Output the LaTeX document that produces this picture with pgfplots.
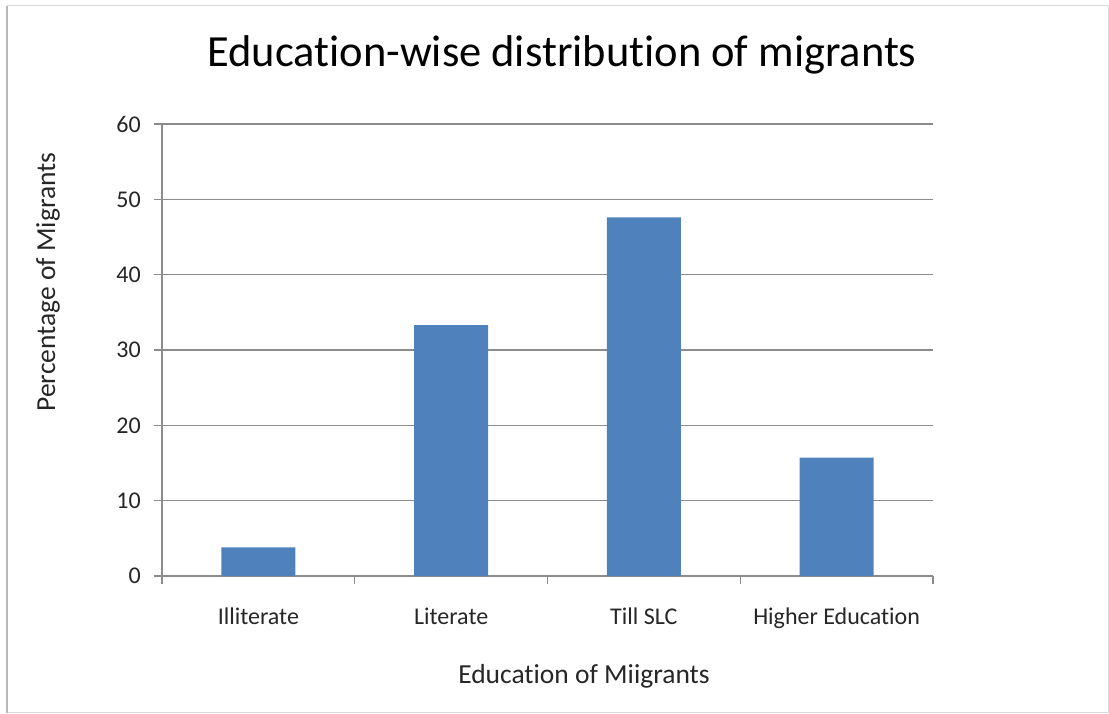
\documentclass[border=0pt]{standalone}
\usepackage{fontspec}
\setmainfont{Carlito}[Ligatures={NoCommon}]
\usepackage{pgfplots}
\pgfplotsset{compat=1.18}
\definecolor{barblue}{HTML}{4F81BD}
\definecolor{gridgray}{HTML}{8C8C8C}
\definecolor{txt}{HTML}{262626}
\begin{document}
\begin{tikzpicture}[x=1pt,y=1pt]
\path[use as bounding box] (0,0) rectangle (1109,713);
\draw[gray!30, line width=1pt] (7,1) rectangle (1108,707);
\draw[gray!55, line width=1.2pt] (7,0) -- (7,707);
\begin{axis}[
  at={(162pt,137pt)}, anchor=south west,
  scale only axis, width=771pt, height=452pt,
  xmin=-0.5, xmax=3.5, ymin=0, ymax=60,
  ytick={0,10,...,60},
  xtick={-0.5,0.5,1.5,2.5,3.5}, xticklabels={},
  extra x ticks={0,1,2,3},
  extra x tick labels={Illiterate,Literate,Till SLC,Higher Education},
  extra x tick style={major tick length=0pt,
    xticklabel style={anchor=base, yshift=-48pt, inner sep=0pt}},
  axis x line*=bottom, axis y line*=left,
  axis line style={gridgray, line width=1.2pt, -},
  ymajorgrids, grid style={gridgray, line width=1.2pt},
  tick align=outside, major tick length=8pt,
  tick style={gridgray, line width=1.2pt},
  ticklabel style={font=\fontsize{24}{28}\selectfont, color=txt},
  /pgf/number format/assume math mode=true,
  yticklabel style={anchor=east, inner sep=0pt, xshift=-13pt},
  ybar, bar width=74pt,
  clip=false,
]
\addplot[fill=barblue, draw=none, bar shift=0pt] coordinates {(0,3.8) (1,33.3) (2,47.6) (3,15.7)};
\end{axis}
\node[anchor=base, font=\fontsize{44.5}{50}\selectfont, color=black] at (562,646) {Education-wise distribution of migrants};
\node[anchor=base, font=\fontsize{27.5}{32}\selectfont, color=txt] at (584,30) {Education of Miigrants};
\node[rotate=90, anchor=center, font=\fontsize{27.5}{32}\selectfont, color=txt] at (48,431) {Percentage of Migrants};
\end{tikzpicture}
\end{document}
